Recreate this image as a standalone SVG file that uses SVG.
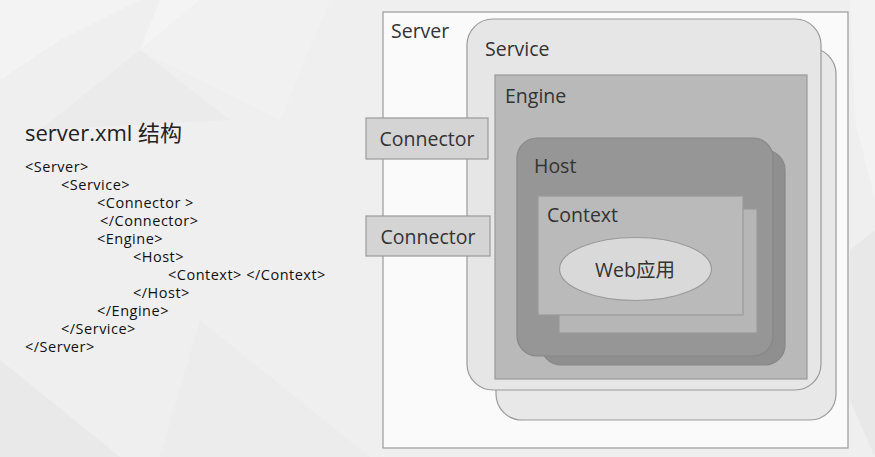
<svg xmlns="http://www.w3.org/2000/svg" width="875" height="457" viewBox="0 0 875 457">
<style>
.lbl{font-family:"Open Sans","Noto Sans CJK SC",sans-serif;fill:#333;font-size:19.5px}
.xml{font-family:"Open Sans","Noto Sans CJK SC",sans-serif;fill:#111;font-size:14.5px;letter-spacing:0.5px}
.ln{stroke:#9a9a9a;stroke-width:1.2}
</style>
<rect x="0" y="0" width="875" height="457" fill="#efefef"/>
<polygon points="0,0 140,0 60,40 0,80" fill="#f3f3f3"/>
<polygon points="160,0 200,0 140,50" fill="#f4f4f4"/>
<polygon points="140,50 230,120 40,130" fill="#ebebeb"/>
<polygon points="200,0 330,0 280,120 140,50" fill="#f1f1f1"/>
<polygon points="0,360 120,457 0,457" fill="#e9e9e9"/>
<polygon points="200,320 370,457 160,457" fill="#ececec"/>
<polygon points="850,0 875,0 875,200 855,120" fill="#f3f3f3"/>
<polygon points="850,250 875,230 875,457 850,400" fill="#e8e8e8"/>

<g id="left-text">
<text x="25" y="141" font-family="Open Sans,Noto Sans CJK SC,sans-serif" font-size="22" fill="#222">server.xml 结构</text>
<text class="xml" x="25" y="172">&lt;Server&gt;</text>
<text class="xml" x="61" y="190">&lt;Service&gt;</text>
<text class="xml" x="97" y="208">&lt;Connector &gt;</text>
<text class="xml" x="100" y="226">&lt;/Connector&gt;</text>
<text class="xml" x="97" y="244">&lt;Engine&gt;</text>
<text class="xml" x="133" y="262">&lt;Host&gt;</text>
<text class="xml" x="168" y="280">&lt;Context&gt; &lt;/Context&gt;</text>
<text class="xml" x="133" y="298">&lt;/Host&gt;</text>
<text class="xml" x="97" y="316">&lt;/Engine&gt;</text>
<text class="xml" x="61" y="334">&lt;/Service&gt;</text>
<text class="xml" x="25" y="352">&lt;/Server&gt;</text>
</g>

<g id="server">
<rect class="ln" x="383" y="12" width="465" height="436" fill="#fafafa"/>
<text class="lbl" x="391" y="38">Server</text>
</g>

<g id="service">
<rect class="ln" x="496" y="48" width="340" height="372" rx="26" fill="#e8e8e8"/>
<rect class="ln" x="467" y="19" width="354" height="371" rx="26" fill="#e6e6e6"/>
<text class="lbl" x="485" y="56">Service</text>
</g>

<g id="engine">
<rect class="ln" x="495" y="75" width="312" height="304" fill="#b9b9b9"/>
<text class="lbl" x="505" y="103">Engine</text>
</g>

<g id="host">
<rect x="541" y="150" width="244" height="215" rx="20" fill="#8f8f8f" stroke="#878787" stroke-width="1.2"/>
<rect x="517" y="138" width="256" height="218" rx="20" fill="#969696" stroke="#878787" stroke-width="1.2"/>
<text class="lbl" x="534" y="173">Host</text>
</g>

<g id="context">
<rect class="ln" x="559" y="209" width="198" height="124" fill="#b6b6b6"/>
<rect class="ln" x="538" y="196" width="205" height="119" fill="#bababa"/>
<text class="lbl" x="547" y="222">Context</text>
</g>

<g id="webapp">
<ellipse class="ln" cx="635.5" cy="269" rx="76" ry="31.5" fill="#d9d9d9"/>
<text class="lbl" x="635" y="277" text-anchor="middle" font-size="21">Web应用</text>
</g>

<g id="connector1">
<rect class="ln" x="366" y="118" width="122" height="41" fill="#d4d4d4"/>
<text class="lbl" x="427" y="146" text-anchor="middle">Connector</text>
</g>

<g id="connector2">
<rect class="ln" x="366" y="216" width="124" height="40" fill="#d4d4d4"/>
<text class="lbl" x="428" y="244" text-anchor="middle">Connector</text>
</g>

<g id="connectors"></g>
</svg>
